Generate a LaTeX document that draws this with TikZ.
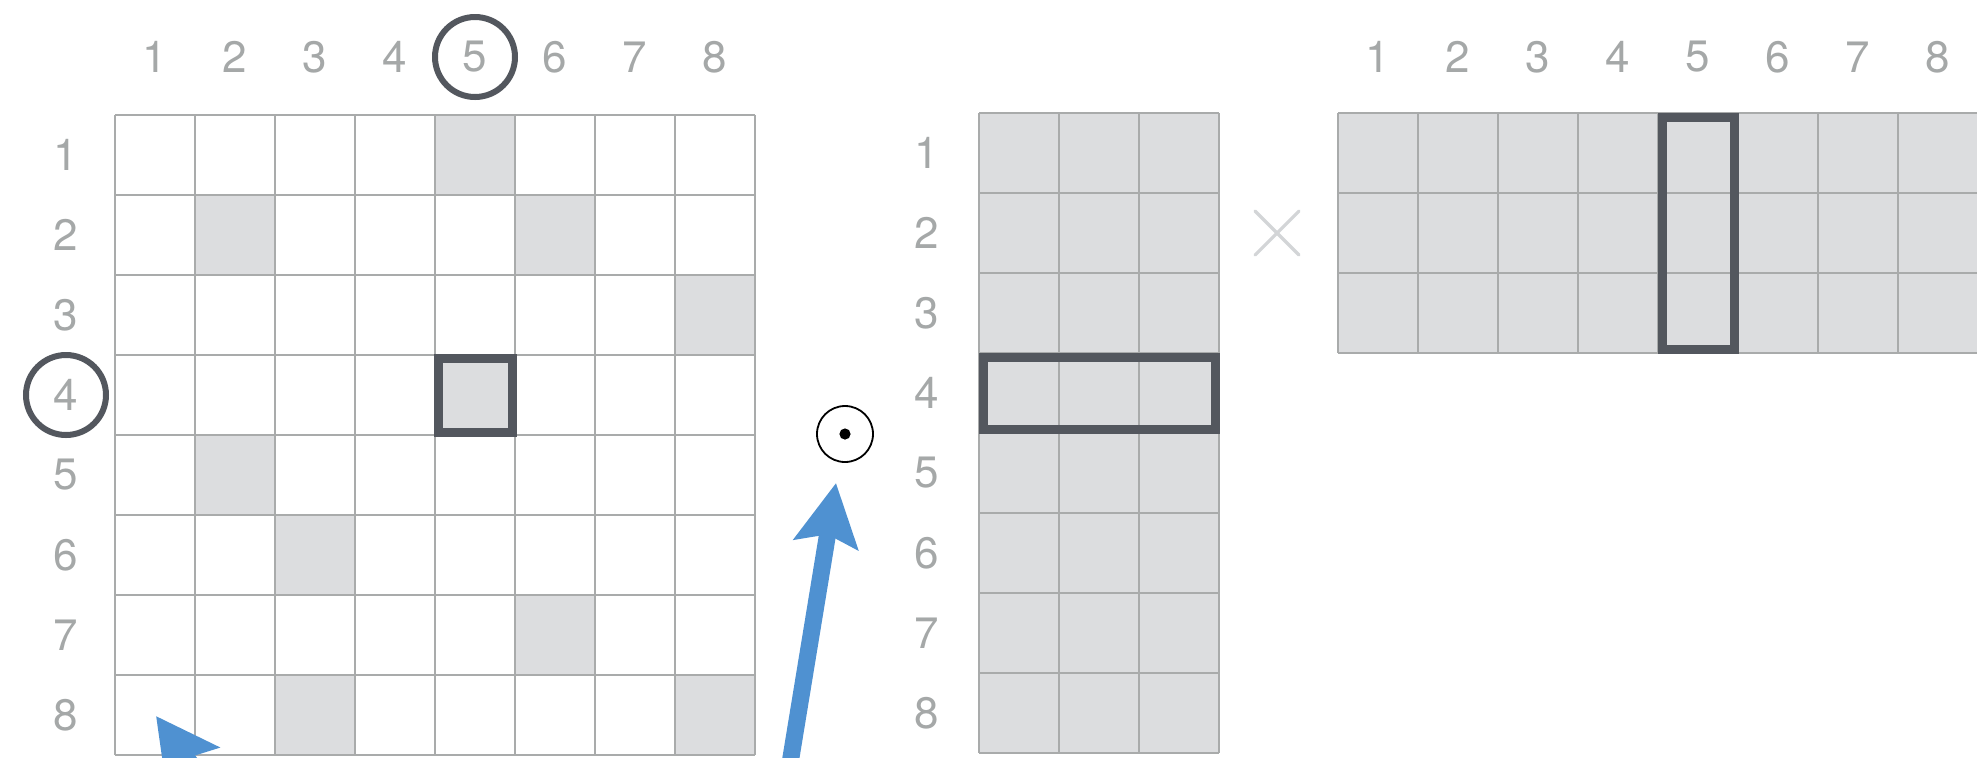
\documentclass[tikz,border=0pt]{standalone}
\usepackage{fontspec}
\setmainfont{TeX Gyre Heros}
\usetikzlibrary{arrows.meta,calc,positioning}
\definecolor{gridgray}{HTML}{A9ABAB}
\definecolor{cellgray}{HTML}{DCDDDF}
\definecolor{labelgray}{HTML}{A5A8A8}
\definecolor{markdark}{HTML}{53575E}
\definecolor{timesgray}{HTML}{D3D5D7}
\definecolor{pointerblue}{HTML}{4F91D1}

\begin{document}
\begin{tikzpicture}[x=0.5pt,y=-0.5pt,>=Latex]
\tikzset{gridline/.style={draw=gridgray,line width=1.4pt},
  cell/.style={fill=cellgray},
  idx/.style={text=labelgray,font=\fontsize{22}{26}\selectfont,inner sep=0pt},
  ring/.style={draw=markdark,line width=3pt},
  pick/.style={draw=markdark,line width=4.5pt},
  timesline/.style={draw=timesgray,line width=1.6pt,line cap=round},
  pointer/.style={draw=pointerblue,line width=8.5pt,-{Stealth[length=31pt,width=32pt,inset=5pt,fill=pointerblue]}}}
\useasboundingbox (0,0) rectangle (1977,757);
\clip (0,0) rectangle (1977,757);

% 8x8 matrix on the left
\foreach \r/\c in {1/5,2/2,2/6,3/8,4/5,5/2,6/3,7/6,8/3,8/8}
  \fill[cell] ({115+80*(\c-1)},{115+80*(\r-1)}) rectangle ++(80,80);
\foreach \k in {0,...,8} {
  \draw[gridline] ({115+80*\k},115) -- ++(0,640);
  \draw[gridline] (115,{115+80*\k}) -- ++(640,0);
}
\foreach \k in {1,...,8} {
  \node[idx] (top\k) at ({75+80*\k},57) {\k};
  \node[idx] (side\k) at (66,{75+80*\k}) {\k};
}
\draw[ring] (top5) circle (20pt);
\draw[ring] (side4) circle (20pt);
\draw[pick] (438,358) rectangle (512,432);

% 8x3 factor
\fill[cell] (979,113) rectangle (1219,753);
\foreach \k in {0,...,3}
  \draw[gridline] ({979+80*\k},113) -- ++(0,640);
\foreach \k in {0,...,8}
  \draw[gridline] (979,{113+80*\k}) -- ++(240,0);
\foreach \k in {1,...,8}
  \node[idx] (rowB\k) at (927,{73+80*\k}) {\k};
\draw[pick] (983,357) rectangle (1215,429);

% times sign
\coordinate (times) at (1277,233);
\draw[timesline] ($(times)+(-22,-22)$) -- ($(times)+(22,22)$);
\draw[timesline] ($(times)+(-22,22)$) -- ($(times)+(22,-22)$);

% 3x8 factor
\fill[cell] (1338,113) rectangle (1978,353);
\foreach \k in {0,...,8}
  \draw[gridline] ({1338+80*\k},113) -- ++(0,240);
\foreach \k in {0,...,3}
  \draw[gridline] (1338,{113+80*\k}) -- ++(640,0);
\foreach \k in {1,...,8}
  \node[idx] (colC\k) at ({1298+80*\k},57) {\k};
\draw[pick] (1662,117) rectangle (1734,349);

% dot product mark
\node[draw,circle,line width=0.9pt,minimum size=28pt,inner sep=0pt] (spot) at (845,434) {};
\fill (spot.center) circle (2.8pt);

% pointers
\coordinate (tipA) at (836,483);
\coordinate (tailA) at (784,800);
\coordinate (tipB) at (156,716);
\coordinate (tailB) at (274,878);
\draw[pointer] (tailA) -- (tipA);
\draw[pointer] (tailB) -- (tipB);
\end{tikzpicture}
\end{document}
